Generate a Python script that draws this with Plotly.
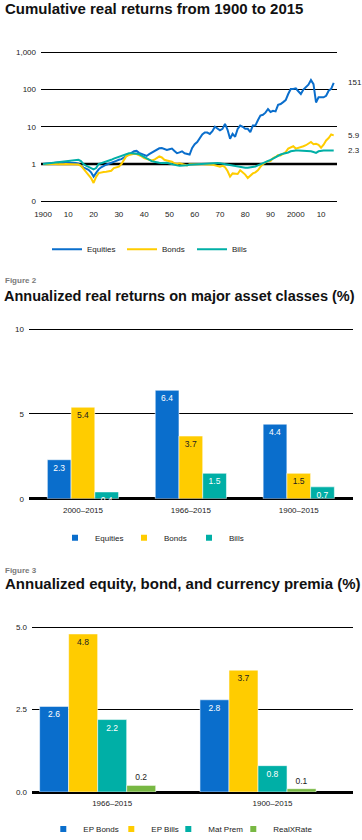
import math
import plotly.graph_objects as go

W, H = 362, 840

# ---------------- data ----------------
years = list(range(1900, 2016))
equities = [
    1.00, 1.02, 1.05, 1.05, 1.08, 1.12, 1.10, 1.05, 1.08, 1.12,
    1.10, 1.08, 1.08, 1.06, 1.02, 0.90, 0.80, 0.75, 0.70, 0.60,
    0.46, 0.58, 0.72, 0.82, 0.90, 0.96, 1.02, 1.10, 1.15, 1.22,
    1.30, 1.35, 1.50, 1.68, 1.80, 2.00, 2.20, 2.25, 2.00, 1.85,
    1.70, 1.65, 1.85, 2.05, 2.25, 2.50, 2.65, 2.70, 2.55, 2.40,
    2.50, 2.60, 2.25, 1.95, 2.05, 2.20, 1.95, 1.85, 1.80, 2.70,
    3.40, 3.90, 4.80, 6.20, 7.00, 7.00, 6.40, 7.60, 10.0, 9.00,
    8.00, 8.80, 12.0, 8.30, 4.80, 6.50, 5.40, 8.80, 10.8, 10.0,
    8.80, 8.80, 7.20, 10.8, 10.8, 15.0, 20.0, 21.0, 24.0, 30.0,
    25.0, 27.0, 26.0, 39.0, 41.0, 46.0, 52.0, 76.0, 104.0, 104.0,
    108.0, 90.0, 76.0, 100.0, 120.0, 135.0, 180.0, 140.0, 45.0, 62.0,
    62.0, 62.0, 68.0, 93.0, 104.0, 151.0,
]
bonds = [
    1.00, 0.98, 0.99, 1.00, 1.01, 1.00, 0.98, 0.97, 0.99, 1.00,
    0.99, 0.98, 0.98, 0.98, 0.97, 0.90, 0.75, 0.62, 0.50, 0.42,
    0.31, 0.45, 0.57, 0.60, 0.61, 0.62, 0.64, 0.66, 0.78, 0.82,
    0.85, 1.00, 1.35, 1.65, 1.75, 1.85, 1.90, 1.85, 1.75, 1.60,
    1.45, 1.35, 1.30, 1.25, 1.30, 1.45, 1.60, 1.50, 1.30, 1.25,
    1.20, 1.15, 1.05, 1.00, 1.05, 1.00, 0.93, 0.92, 0.98, 0.97,
    0.96, 0.98, 1.00, 1.00, 1.00, 1.00, 0.98, 0.96, 0.93, 0.88,
    0.85, 0.90, 0.82, 0.65, 0.46, 0.56, 0.55, 0.54, 0.68, 0.60,
    0.52, 0.42, 0.50, 0.56, 0.60, 0.68, 0.84, 1.00, 1.10, 1.20,
    1.20, 1.45, 1.55, 1.75, 1.70, 1.90, 2.10, 2.60, 2.80, 3.00,
    2.60, 2.70, 2.80, 3.00, 3.20, 3.50, 3.90, 3.40, 3.50, 3.30,
    2.75, 3.30, 4.30, 5.00, 6.20, 5.90,
]
bills = [
    1.00, 1.02, 1.04, 1.06, 1.08, 1.10, 1.12, 1.13, 1.14, 1.15,
    1.17, 1.20, 1.22, 1.27, 1.30, 1.20, 1.00, 0.90, 0.82, 0.78,
    0.72, 0.78, 1.00, 1.05, 1.10, 1.15, 1.25, 1.30, 1.40, 1.48,
    1.55, 1.65, 1.75, 1.90, 1.95, 1.95, 1.95, 1.90, 1.85, 1.70,
    1.50, 1.45, 1.30, 1.20, 1.15, 1.10, 1.08, 1.06, 1.06, 1.08,
    1.03, 0.98, 0.95, 0.92, 0.90, 0.90, 0.92, 0.93, 0.96, 0.97,
    0.98, 1.00, 1.00, 1.00, 1.02, 1.03, 1.02, 1.05, 1.08, 1.07,
    1.05, 1.02, 1.00, 0.98, 0.92, 0.90, 0.88, 0.85, 0.83, 0.82,
    0.80, 0.80, 0.82, 0.83, 0.86, 0.92, 0.98, 1.05, 1.10, 1.20,
    1.30, 1.40, 1.55, 1.70, 1.80, 1.90, 1.95, 2.05, 2.20, 2.30,
    2.30, 2.30, 2.30, 2.30, 2.30, 2.25, 2.20, 2.10, 2.00, 2.20,
    2.30, 2.30, 2.30, 2.30, 2.30, 2.30,
]
line_tickvals = [1900, 1910, 1920, 1930, 1940, 1950, 1960, 1970, 1980, 1990, 2000, 2010]
line_ticktext = ["1900", "10", "20", "30", "40", "50", "60", "70", "80", "90", "2000", "10"]
log_tickvals = [0.1, 1, 10, 100, 1000]
log_ticktext = ["0", "1", "10", "100", "1,000"]

periods2 = ["2000–2015", "1966–2015", "1900–2015"]
eq2 = [2.3, 6.4, 4.4]
bd2 = [5.4, 3.7, 1.5]
bl2 = [0.4, 1.5, 0.7]

periods3 = ["1966–2015", "1900–2015"]
ep_bonds = [2.6, 2.8]
ep_bills = [4.8, 3.7]
mat_prem = [2.2, 0.8]
real_xrate = [0.2, 0.1]

# ---------------- styles ----------------
BLUE = "#0A6ECC"
YELLOW = "#FFCC00"
TEAL = "#00AFA6"
GREEN = "#78B843"
DARK = "#222222"
FONT = "Liberation Sans, Arial, sans-serif"
EDGE = dict(color="rgba(255,255,255,0.55)", width=1)


def py(p):
    return 1 - p / H


def px(p):
    return p / W


fig = go.Figure()

# ---- chart 1: lines ----
for name, vals, col, lw in [("Equities", equities, BLUE, 30),
                            ("Bonds", bonds, YELLOW, 25),
                            ("Bills", bills, TEAL, 20)]:
    fig.add_trace(go.Scatter(x=years, y=vals, name=name, mode="lines",
                             line=dict(color=col, width=2),
                             xaxis="x", yaxis="y", legend="legend",
                             legendwidth=lw))

# ---- chart 2: bars ----
for name, vals, col, tcol, lw in [("Equities", eq2, BLUE, "white", 24),
                                  ("Bonds", bd2, YELLOW, DARK, 20),
                                  ("Bills", bl2, TEAL, "white", 15)]:
    fig.add_trace(go.Bar(x=periods2, y=vals, name=name, showlegend=False,
                         marker=dict(color=col, line=EDGE),
                         texttemplate="%{y:.1f}", textposition="inside",
                         insidetextanchor="end", textangle=0,
                         constraintext="none", cliponaxis=False,
                         textfont=dict(color=tcol, size=8.5, family=FONT),
                         xaxis="x2", yaxis="y2"))
    fig.add_trace(go.Scatter(x=[None], y=[None], mode="markers", name=name,
                             marker=dict(symbol="square", size=6, color=col),
                             xaxis="x2", yaxis="y2", legend="legend2",
                             legendwidth=lw))

# ---- chart 3: bars (5 slots per group, 4 used) ----
slot = 0.181
start = -2.5 * slot
series3 = [("EP Bonds", ep_bonds, BLUE, "white", "inside", 23),
           ("EP Bills", ep_bills, YELLOW, DARK, "inside", 12),
           ("Mat Prem", mat_prem, TEAL, "white", "inside", 20),
           ("RealXRate", real_xrate, GREEN, DARK, "outside", 40)]
for i, (name, vals, col, tcol, tpos, lw) in enumerate(series3):
    fig.add_trace(go.Bar(x=periods3, y=vals, name=name, showlegend=False,
                         width=slot, offset=start + i * slot,
                         marker=dict(color=col, line=EDGE),
                         texttemplate="%{y:.1f}", textposition=tpos,
                         insidetextanchor="end", textangle=0,
                         constraintext="none", cliponaxis=False,
                         textfont=dict(color=tcol, size=8.5, family=FONT),
                         xaxis="x3", yaxis="y3"))
    fig.add_trace(go.Scatter(x=[None], y=[None], mode="markers", name=name,
                             marker=dict(symbol="square", size=6, color=col),
                             xaxis="x3", yaxis="y3", legend="legend3",
                             legendwidth=lw))

tickfont = dict(size=8, color=DARK, family=FONT)
common_x = dict(showgrid=False, zeroline=False, showline=False, ticks="",
                tickfont=tickfont, fixedrange=True)
common_y = dict(showgrid=True, gridcolor="black", gridwidth=1, showline=False,
                ticks="", tickfont=tickfont, fixedrange=True, ticklabelstandoff=4)

legend_common = dict(orientation="h", xanchor="left", yanchor="middle",
                     font=dict(size=8, color=DARK, family=FONT),
                     bgcolor="rgba(0,0,0,0)", itemwidth=30, borderwidth=0,
                     itemclick=False, itemdoubleclick=False)

ann = []
ann.append(dict(text="<b>Cumulative real returns from 1900 to 2015</b>",
                x=px(3), y=py(8.5), xref="paper", yref="paper",
                xanchor="left", yanchor="middle", showarrow=False,
                font=dict(size=15, color="#111111", family=FONT)))
ann.append(dict(text="<b>Figure 2</b>", x=px(3), y=py(281), xref="paper",
                yref="paper", xanchor="left", yanchor="middle", showarrow=False,
                font=dict(size=8, color="#7a7a7a", family=FONT)))
ann.append(dict(text="<b>Annualized real returns on major asset classes (%)</b>",
                x=px(2), y=py(295.5), xref="paper", yref="paper",
                xanchor="left", yanchor="middle", showarrow=False,
                font=dict(size=14.5, color="#111111", family=FONT)))
ann.append(dict(text="<b>Figure 3</b>", x=px(3), y=py(570), xref="paper",
                yref="paper", xanchor="left", yanchor="middle", showarrow=False,
                font=dict(size=8, color="#7a7a7a", family=FONT)))
ann.append(dict(text="<b>Annualized equity, bond, and currency premia (%)</b>",
                x=px(3), y=py(583.5), xref="paper", yref="paper",
                xanchor="left", yanchor="middle", showarrow=False,
                font=dict(size=15, color="#111111", family=FONT)))
for vals, fmt in [(equities, "{:.0f}"), (bonds, "{:.1f}"), (bills, "{:.1f}")]:
    ann.append(dict(text=fmt.format(vals[-1]), x=px(346), y=math.log10(vals[-1]),
                    xref="paper", yref="y", xanchor="left", yanchor="middle",
                    showarrow=False, font=dict(size=8, color=DARK, family=FONT)))

fig.update_layout(
    width=W, height=H,
    margin=dict(l=0, r=0, t=0, b=0, autoexpand=False),
    paper_bgcolor="white", plot_bgcolor="white",
    font=dict(family=FONT, size=8, color=DARK),
    hovermode=False,
    barmode="group", bargap=0.34, bargroupgap=0,
    xaxis=dict(common_x, domain=[px(41), px(337)], range=[1899.2, 2016.3],
               tickvals=line_tickvals, ticktext=line_ticktext, anchor="y",
               ticklabelstandoff=3),
    yaxis=dict(common_y, type="log", domain=[py(205), py(48.6)],
               range=[-1.1, 3.1], tickvals=log_tickvals, ticktext=log_ticktext,
               anchor="x", zeroline=False),
    xaxis2=dict(common_x, domain=[px(29), px(352.7)], anchor="y2",
                ticklabelstandoff=5),
    yaxis2=dict(common_y, domain=[py(498.7), py(324.2)], range=[0, 10.3],
                tickvals=[0, 5, 10], ticktext=["0", "5", "10"], anchor="x2",
                zeroline=True, zerolinecolor="black", zerolinewidth=3),
    xaxis3=dict(common_x, domain=[px(32), px(352.7)], anchor="y3",
                ticklabelstandoff=5),
    yaxis3=dict(common_y, domain=[py(792), py(622.4)], range=[0, 5.15],
                tickvals=[0, 2.5, 5], ticktext=["0.0", "2.5", "5.0"], anchor="x3",
                zeroline=True, zerolinecolor="black", zerolinewidth=3),
    legend=dict(legend_common, x=px(47), y=py(249.3)),
    legend2=dict(legend_common, x=px(55), y=py(537.7)),
    legend3=dict(legend_common, x=px(43.3), y=py(829)),
    annotations=ann,
    shapes=[dict(type="line", xref="x domain", x0=0, x1=1, yref="y", y0=1, y1=1,
                 line=dict(color="black", width=2.5), layer="below")],
)

fig.write_html("out.html", config={"displayModeBar": False},
               post_script="document.body.style.margin='0px';")
